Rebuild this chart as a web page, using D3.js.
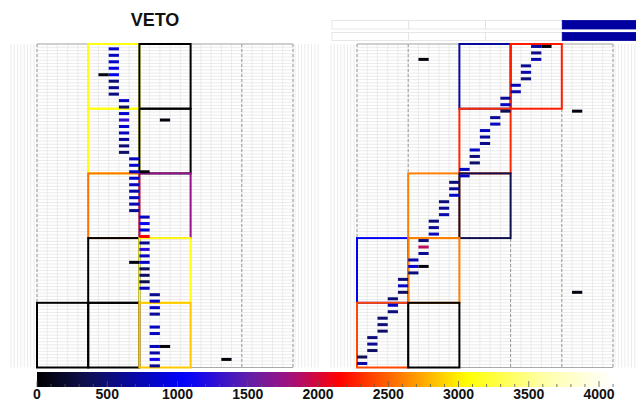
<!DOCTYPE html>
<html><head><meta charset="utf-8">
<script src="https://cdn.jsdelivr.net/npm/d3@7"></script>
<style>body{margin:0;background:#fff}svg{display:block}</style>
</head><body>
<svg id="chart" width="636" height="404"></svg>
<script>
// Layers (rows) and fine channels (columns) per panel
const rowCount = 50;
const colCount = 25;

// VETO panel: channel hit in each layer and its rate
const vetoCol = [7,7,7,7,7,7,7,7,8,8, 8,8,8,8,8,8,8,9,9,9, 9,9,9,9,9,9,10,10,10,10,
                 10,10,10,10,10,10,10,10,11,11, 11,11,null,11,11,null,11,11,11,11];
const vetoVal = [850,800,850,950,1000,500,600,550,800,450, 850,1300,850,800,650,500,450,800,850,800,
                 850,800,700,800,750,600,800,1100,850,2150, 600,1250,800,850,420,450,330,780,600,820,
                 820,650,null,800,800,null,780,700,1150,620];
// VETO panel: isolated low-rate hits
const vetoExtraRow = [4, 11, 19, 33, 46, 48];
const vetoExtraCol = [6, 12, 10, 9, 12, 18];
const vetoExtraVal = [80, 60, 60, 70, 60, 50];
// VETO panel: module outlines (band of 10 layers, block of 5 channels, rate)
const vetoModBand  = [0, 0, 1, 1, 2, 2, 3, 3, 4, 4, 4];
const vetoModBlock = [1, 2, 1, 2, 1, 2, 1, 2, 0, 1, 2];
const vetoModVal   = [3100, 0, 3100, 0, 2550, 1750, 0, 3100, 0, 0, 2850];

// Second panel: channel hit in each layer and its rate
const sideCol = [17,17,17,16,16,16,15,15,14,14, 14,13,13,12,12,12,11,11,11,10,
                 10,9,9,9,8,8,8,7,7,7, 6,6,6,5,5,5,4,4,4,3, 3,3,2,2,2,1,1,1,0,0];
const sideVal = [650,580,720,620,720,500,780,720,620,820, 380,620,780,780,650,580,820,520,450,780,
                 820,500,620,820,520,620,720,520,620,780, 520,1900,620,720,850,520,520,820,420,500,
                 820,520,500,520,450,520,620,420,380,720];
const sideExtraRow = [0, 2, 10, 34, 38];
const sideExtraCol = [18, 6, 21, 6, 21];
const sideExtraVal = [50, 60, 60, 60, 60];
const sideModBand  = [0, 0, 1, 2, 2, 3, 3, 4, 4];
const sideModBlock = [2, 3, 2, 1, 2, 0, 1, 0, 1];
const sideModVal   = [650, 2250, 2300, 2600, 330, 1000, 2600, 2400, 0];

// Status strip above the second panel (1 = active)
const statusRow1 = [0, 0, 0, 1];
const statusRow2 = [0, 0, 0, 1];

// Colour bar
const barTicks = [0, 500, 1000, 1500, 2000, 2500, 3000, 3500, 4000];
const barMax = 4100;

const svg = d3.select("#chart");
const font = "'Liberation Sans', Arial, sans-serif";

const palette = d3.scaleLinear()
  .domain([0, 350, 1050, 1500, 1800, 2150, 2600, 3050, 3600, barMax])
  .range(["#000000", "#101050", "#0000ff", "#6020a8", "#a01080", "#ff0000", "#ff8000", "#ffff00", "#ffffa8", "#ffffff"])
  .clamp(true);

const y = d3.scaleLinear().domain([0, rowCount]).range([44, 367.5]);

function drawPanel(x0, x1, cols, vals, exRow, exCol, exVal, mBand, mBlock, mVal, barCenter) {
  const x = d3.scaleLinear().domain([0, colCount]).range([x0, x1]);
  const g = svg.append("g");

  // side stripes
  const stripes = d3.range(x0 - 26, x0 - 1, 3.3).concat(d3.range(x1 + 2, x1 + 27, 3.3));
  g.selectAll("line.stripe").data(stripes).join("line")
    .attr("x1", d => d).attr("x2", d => d).attr("y1", y(0)).attr("y2", y(rowCount))
    .attr("stroke", "#e6e6e6").attr("stroke-width", 0.8);

  // fine grid
  g.selectAll("line.h").data(d3.range(0, rowCount * 2 + 1)).join("line")
    .attr("x1", x0).attr("x2", x1).attr("y1", d => y(d / 2)).attr("y2", d => y(d / 2))
    .attr("stroke", "#dedede").attr("stroke-width", 0.6);
  g.selectAll("line.v").data(d3.range(0, colCount + 1)).join("line")
    .attr("x1", d => x(d)).attr("x2", d => x(d)).attr("y1", y(0)).attr("y2", y(rowCount))
    .attr("stroke", "#e4e4e4").attr("stroke-width", 0.7);
  // block separators
  g.selectAll("line.major").data(d3.range(0, colCount + 1, 5)).join("line")
    .attr("x1", d => x(d)).attr("x2", d => x(d)).attr("y1", y(0)).attr("y2", y(rowCount))
    .attr("stroke", "#999").attr("stroke-width", 1).attr("stroke-dasharray", "3,2");
  g.selectAll("line.edge").data([0, rowCount]).join("line")
    .attr("x1", x0).attr("x2", x1).attr("y1", d => y(d)).attr("y2", d => y(d))
    .attr("stroke", "#aaa").attr("stroke-width", 1);

  // module outlines
  const mods = mBand.map((b, i) => ({band: b, block: mBlock[i], v: mVal[i]}));
  g.selectAll("rect.mod").data(mods).join("rect")
    .attr("x", d => x(d.block * 5)).attr("y", d => y(d.band * 10))
    .attr("width", d => x(d.block * 5 + 5) - x(d.block * 5))
    .attr("height", d => y(d.band * 10 + 10) - y(d.band * 10))
    .attr("fill", "none").attr("stroke", d => palette(d.v)).attr("stroke-width", 2);

  // hits
  const hits = cols.map((c, r) => ({r, c, v: vals[r]})).filter(d => d.c !== null)
    .concat(exRow.map((r, i) => ({r, c: exCol[i], v: exVal[i]})));
  const h = 3;
  g.selectAll("rect.hit").data(hits).join("rect")
    .attr("x", d => x(d.c)).attr("width", d => x(d.c + 1) - x(d.c))
    .attr("y", d => y(d.r + barCenter) - h / 2).attr("height", h)
    .attr("fill", d => palette(d.v));
}

drawPanel(37, 293, vetoCol, vetoVal, vetoExtraRow, vetoExtraCol, vetoExtraVal,
          vetoModBand, vetoModBlock, vetoModVal, 0.75);
drawPanel(357, 613, sideCol, sideVal, sideExtraRow, sideExtraCol, sideExtraVal,
          sideModBand, sideModBlock, sideModVal, 0.38);

// title
svg.append("text").attr("x", 155).attr("y", 26).attr("text-anchor", "middle")
  .attr("font-family", font).attr("font-weight", "bold").attr("font-size", 18)
  .attr("fill", "#111").text("VETO");

// status strip
const sx = d3.scaleLinear().domain([0, 4]).range([332, 639]);
[[statusRow1, 20.5, 8.5], [statusRow2, 32.5, 8]].forEach(([row, top, hgt]) => {
  svg.append("g").selectAll("rect").data(row).join("rect")
    .attr("x", (d, i) => sx(i)).attr("y", top)
    .attr("width", (d, i) => sx(i + 1) - sx(i)).attr("height", hgt)
    .attr("fill", d => d ? "#0000a0" : "#fff")
    .attr("stroke", d => d ? "#0000a0" : "#e0e0e0").attr("stroke-width", 0.8);
});

// colour bar
const cx = d3.scaleLinear().domain([0, 4000]).range([37, 599]);
const grad = svg.append("defs").append("linearGradient").attr("id", "pal")
  .attr("x1", "0%").attr("x2", "100%").attr("y1", "0%").attr("y2", "0%");
grad.selectAll("stop").data(d3.range(0, 41)).join("stop")
  .attr("offset", d => (d / 40 * 100) + "%")
  .attr("stop-color", d => palette(d / 40 * barMax));
svg.append("rect").attr("x", cx(0)).attr("y", 372)
  .attr("width", cx(barMax) - cx(0)).attr("height", 15).attr("fill", "url(#pal)");

const cb = svg.append("g");
cb.selectAll("line.minor").data(d3.range(0, barMax + 1, 100)).join("line")
  .attr("x1", d => cx(d)).attr("x2", d => cx(d))
  .attr("y1", 387).attr("y2", d => d % 500 === 0 ? 381 : 384)
  .attr("stroke", "#555").attr("stroke-width", 0.8);
cb.selectAll("text").data(barTicks).join("text")
  .attr("x", d => cx(d)).attr("y", 399).attr("text-anchor", "middle")
  .attr("font-family", font).attr("font-weight", "bold").attr("font-size", 14)
  .attr("fill", "#111").text(d => d);
</script>
</body></html>
